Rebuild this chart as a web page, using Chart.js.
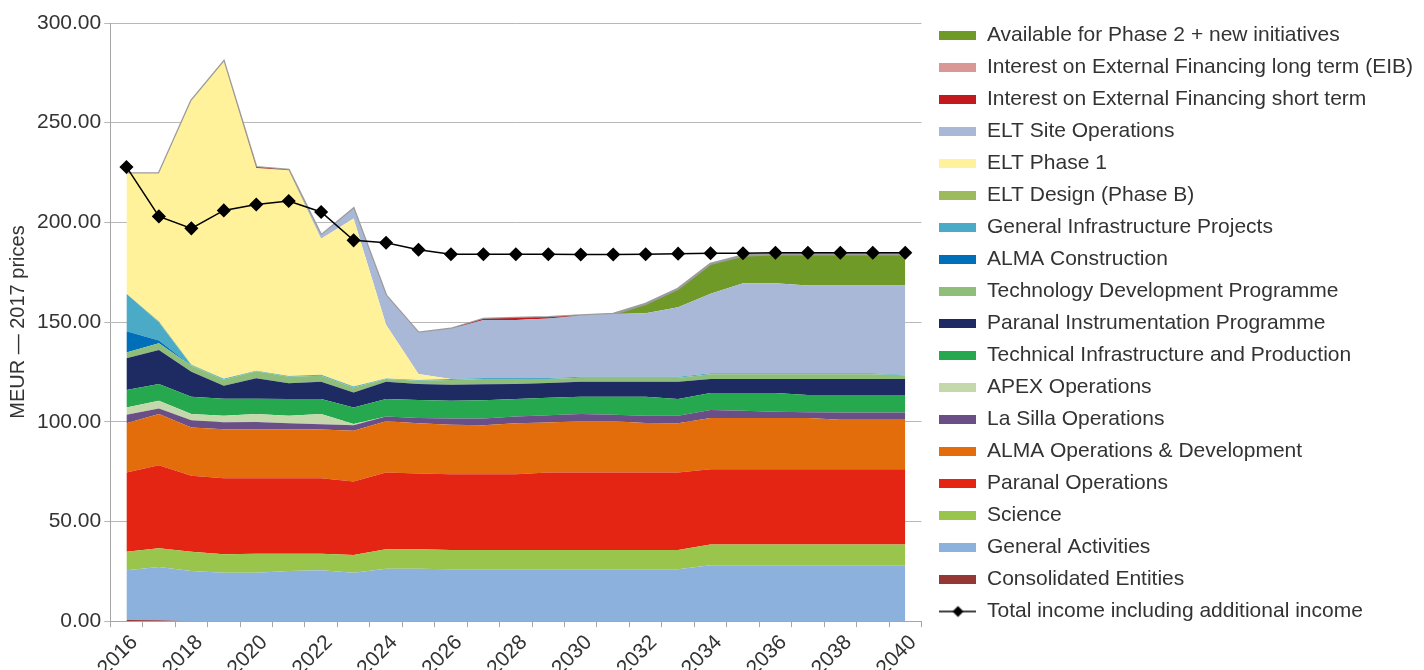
<!DOCTYPE html>
<html>
<head>
<meta charset="utf-8">
<title>ESO long-term budget</title>
<script src="https://cdn.jsdelivr.net/npm/chart.js@4.4.1/dist/chart.umd.min.js"></script>
<style>
  html, body { margin: 0; padding: 0; background: #fff; overflow: hidden; }
  #wrap { position: relative; width: 1424px; height: 684px; }
</style>
</head>
<body>
<div id="wrap"><canvas id="budgetChart"></canvas></div>
<script>
// Budget plan 2016-2040, MEUR in 2017 prices
const years = ['2016', '2017', '2018', '2019', '2020', '2021', '2022', '2023', '2024', '2025',
    '2026', '2027', '2028', '2029', '2030', '2031', '2032', '2033', '2034', '2035',
    '2036', '2037', '2038', '2039', '2040'];

const consolidated = [0.6, 0.4, 0, 0, 0, 0, 0, 0, 0, 0, 0, 0, 0, 0, 0, 0, 0, 0, 0, 0, 0, 0, 0, 0, 0];
const generalActivities = [24.9, 26.7, 25.1, 24.3, 24.3, 25.1, 25.5, 24.3, 26.3, 26.3, 26, 26, 26, 26, 26, 26, 26, 26, 28, 28, 28, 28, 28, 28, 28];
const science = [9.3, 9.4, 9.7, 9.2, 9.5, 8.7, 8.3, 8.9, 9.7, 9.7, 9.7, 9.7, 9.7, 9.7, 9.7, 9.7, 9.7, 9.7, 10.5, 10.5, 10.5, 10.5, 10.5, 10.5, 10.5];
const paranalOps = [39.7, 41.7, 38.1, 38.2, 37.9, 37.9, 37.9, 36.8, 38.5, 38.0, 38.0, 38.0, 38.0, 38.8, 38.8, 38.8, 38.8, 38.8, 37.7, 37.7, 37.7, 37.7, 37.7, 37.7, 37.7];
const almaOps = [24.7, 25.7, 24.2, 24.6, 24.6, 24.6, 24.4, 25.5, 25.7, 25.2, 24.8, 24.6, 25.5, 25.1, 25.7, 25.7, 24.9, 24.7, 25.7, 25.7, 25.7, 25.7, 24.8, 24.8, 24.8];
const laSillaOps = [4.3, 2.8, 3.7, 3.5, 3.6, 2.9, 2.7, 2.8, 2.5, 2.7, 3.2, 3.4, 3.5, 3.7, 3.7, 3.3, 3.6, 3.8, 4.0, 3.6, 3.1, 2.9, 3.7, 3.7, 3.7];
const apexOps = [3.7, 3.9, 3.1, 3.2, 4.0, 3.8, 5.1, 0.6, 0, 0, 0, 0, 0, 0, 0, 0, 0, 0, 0, 0, 0, 0, 0, 0, 0];
const techInfra = [8.7, 8.3, 8.7, 8.6, 7.7, 8.4, 7.5, 8.3, 8.7, 9.0, 8.9, 9.1, 8.7, 8.7, 8.7, 9.1, 9.6, 8.4, 8.5, 8.9, 9.4, 8.6, 8.7, 8.7, 8.7];
const paranalInstr = [15.9, 17.1, 12.5, 6.5, 10.2, 7.9, 8.7, 7.5, 8.7, 8.0, 8.0, 8.0, 7.5, 7.5, 7.5, 7.5, 7.5, 8.7, 7.0, 7.0, 7.0, 8.0, 8.0, 8.0, 8.0];
const techDev = [3.0, 3.4, 3.0, 3.0, 3.5, 3.3, 3.0, 2.5, 1.3, 1.7, 2.3, 2.7, 2.6, 2.0, 2.0, 2.0, 2.0, 2.0, 2.4, 2.4, 2.4, 2.4, 2.4, 2.4, 1.9];
const almaConstruction = [10.6, 1.3, 0, 0, 0, 0, 0, 0, 0, 0, 0, 0, 0, 0, 0, 0, 0, 0, 0, 0, 0, 0, 0, 0, 0];
const genInfraProjects = [18.8, 9.2, 0.3, 0.5, 0.3, 0.3, 0.5, 0.5, 0.3, 0.3, 0.5, 0.5, 0.5, 0.5, 0.5, 0.5, 0.5, 0.5, 0.5, 0.5, 0.5, 0.5, 0.5, 0.5, 0.3];
const eltDesign = [0, 0.5, 0.3, 0, 0, 0, 0, 0, 0, 0, 0, 0, 0, 0, 0, 0, 0, 0, 0, 0, 0, 0, 0, 0, 0];
const eltPhase1 = [60.3, 74.1, 132.3, 159.0, 101.7, 103.2, 68.2, 84.2, 27.0, 3.1, 0, 0, 0, 0, 0, 0, 0, 0, 0, 0, 0, 0, 0, 0, 0];
const eltSiteOps = [0, 0, 0, 0, 0, 0, 1.7, 5.0, 14.6, 20.6, 25.2, 29.0, 29.1, 29.8, 30.7, 31.5, 31.8, 34.8, 39.9, 45.2, 45.2, 44.0, 44.0, 44.0, 44.7];
const interestShort = [0, 0, 0, 0, 0.3, 0.2, 0, 0, 0, 0, 0, 0.6, 1.0, 0.6, 0, 0, 0, 0, 0, 0, 0, 0, 0, 0, 0];
const interestLong = [0, 0, 0, 0, 0, 0, 0, 0, 0, 0, 0, 0, 0, 0, 0, 0, 0, 0, 0, 0, 0, 0, 0, 0, 0];
const availablePhase2 = [0, 0, 0, 0, 0, 0, 0, 0, 0, 0, 0, 0, 0, 0, 0, 0, 4.7, 9.3, 15.0, 13.9, 14.5, 15.7, 15.7, 15.7, 15.7];
const totalIncome = [227.8, 203.0, 197.0, 206.0, 209.0, 210.7, 205.2, 191.0, 189.8, 186.3, 184.0, 184.0, 184.0, 184.0, 183.9, 183.9, 184.0, 184.3, 184.5, 184.5, 184.8, 184.8, 184.8, 184.8, 184.8];
const yTicks = [0, 50, 100, 150, 200, 250, 300];

// stack order, bottom first
const series = [
    ['Consolidated Entities', consolidated, '#953735'],
    ['General Activities', generalActivities, '#8db1dd'],
    ['Science', science, '#9ac54c'],
    ['Paranal Operations', paranalOps, '#e42513'],
    ['ALMA Operations & Development', almaOps, '#e36c0b'],
    ['La Silla Operations', laSillaOps, '#6a4e86'],
    ['APEX Operations', apexOps, '#c5d8ab'],
    ['Technical Infrastructure and Production', techInfra, '#26a84f'],
    ['Paranal Instrumentation Programme', paranalInstr, '#1e2a62'],
    ['Technology Development Programme', techDev, '#8fbd7a'],
    ['ALMA Construction', almaConstruction, '#006fba'],
    ['General Infrastructure Projects', genInfraProjects, '#4babc6'],
    ['ELT Design (Phase B)', eltDesign, '#9dbb5c'],
    ['ELT Phase 1', eltPhase1, '#fff29a'],
    ['ELT Site Operations', eltSiteOps, '#a9b8d6'],
    ['Interest on External Financing short term', interestShort, '#c1191d'],
    ['Interest on External Financing long term (EIB)', interestLong, '#d99795'],
    ['Available for Phase 2 + new initiatives', availablePhase2, '#6f9a27']
];

const textColor = '#333333';
const axisGray = '#a6a6a6';
Chart.defaults.font.family = '"Liberation Sans", Arial, Helvetica, sans-serif';
Chart.defaults.color = textColor;

// little legend swatches
function swatch(color) {
    const c = document.createElement('canvas');
    c.width = 37;
    c.height = 9;
    const g = c.getContext('2d');
    g.fillStyle = color;
    g.fillRect(0, 0, 37, 9);
    return c;
}

function lineSwatch() {
    const c = document.createElement('canvas');
    c.width = 37;
    c.height = 14;
    const g = c.getContext('2d');
    g.strokeStyle = '#000';
    g.lineWidth = 1.5;
    g.beginPath();
    g.moveTo(0, 7);
    g.lineTo(37, 7);
    g.stroke();
    g.fillStyle = '#000';
    g.beginPath();
    g.moveTo(18.5, 1.5);
    g.lineTo(24, 7);
    g.lineTo(18.5, 12.5);
    g.lineTo(13, 7);
    g.closePath();
    g.fill();
    return c;
}

const datasets = series.map(([label, data, color], i) => ({
    label: label,
    data: data,
    backgroundColor: color,
    borderColor: 'rgba(0,0,0,0)',
    borderWidth: 0,
    fill: i === 0 ? 'origin' : '-1',
    pointRadius: 0,
    pointHoverRadius: 0,
    tension: 0,
    stack: 'budget'
}));

// grey outline along the top of the stack
datasets[datasets.length - 1].borderColor = '#9c9c9c';
datasets[datasets.length - 1].borderWidth = 2.5;

datasets.push({
    label: 'Total income including additional income',
    data: totalIncome,
    borderColor: '#000',
    backgroundColor: '#000',
    borderWidth: 1.5,
    pointStyle: 'rectRot',
    pointRadius: 6,
    pointHoverRadius: 6,
    fill: false,
    tension: 0,
    stack: 'total',
    order: -1
});

const totalIndex = datasets.length - 1;
const icons = series.map(s => swatch(s[2]));
icons.push(lineSwatch());

// legend keeps its full width, leaves a small gap from the plot, and sits a bit higher
const legendGap = 7;
const legendNudge = {
    id: 'legendNudge',
    beforeInit(chart) {
        const fit = chart.legend.fit;
        chart.legend.fit = function () {
            fit.call(this);
            const pad = this.options.labels.padding;
            if (this.columnSizes && this.columnSizes.length) {
                this.width = this.columnSizes.reduce((s, c) => s + c.width + pad, pad) + legendGap;
            }
        };
    },
    afterLayout(chart) {
        const lg = chart.legend;
        lg.left += legendGap;
        lg.right += legendGap;
        lg.top -= 9;
        lg.bottom -= 9;
    }
};

const budgetChart = new Chart(document.getElementById('budgetChart').getContext('2d'), {
    type: 'line',
    data: {
        labels: years,
        datasets: datasets
    },
    options: {
        responsive: true,
        maintainAspectRatio: false,
        animation: false,
        layout: {
            padding: { top: 23, left: 2, right: 0, bottom: 0 }
        },
        plugins: {
            legend: {
                position: 'right',
                align: 'start',
                labels: {
                    usePointStyle: true,
                    pointStyleWidth: 37,
                    padding: 11,
                    color: textColor,
                    font: { size: 21 },
                    generateLabels(chart) {
                        const items = Chart.defaults.plugins.legend.labels.generateLabels(chart);
                        items.forEach(item => {
                            item.pointStyle = icons[item.datasetIndex];
                        });
                        const rank = item => item.datasetIndex === totalIndex ? 1000 : -item.datasetIndex;
                        return items.sort((a, b) => rank(a) - rank(b));
                    }
                }
            },
            tooltip: { enabled: false }
        },
        scales: {
            x: {
                type: 'category',
                offset: true,
                grid: {
                    offset: true,
                    drawOnChartArea: false,
                    tickLength: 6,
                    color: axisGray
                },
                border: { color: axisGray },
                ticks: {
                    autoSkip: false,
                    maxRotation: 45,
                    minRotation: 45,
                    labelOffset: 8,
                    padding: 3,
                    color: textColor,
                    font: { size: 21 },
                    callback: (value, index) => index % 2 === 0 ? years[index] : ''
                }
            },
            y: {
                stacked: true,
                min: yTicks[0],
                max: yTicks[yTicks.length - 1],
                grid: {
                    color: '#b8b8b8',
                    tickLength: 6
                },
                border: { color: axisGray },
                ticks: {
                    stepSize: yTicks[1] - yTicks[0],
                    padding: 3,
                    color: textColor,
                    font: { size: 21 },
                    callback: value => value.toFixed(2)
                },
                title: {
                    display: true,
                    text: 'MEUR — 2017 prices',
                    color: textColor,
                    font: { size: 20 },
                    padding: { top: 4, bottom: 4 }
                }
            }
        }
    },
    plugins: [legendNudge]
});
</script>
</body>
</html>
